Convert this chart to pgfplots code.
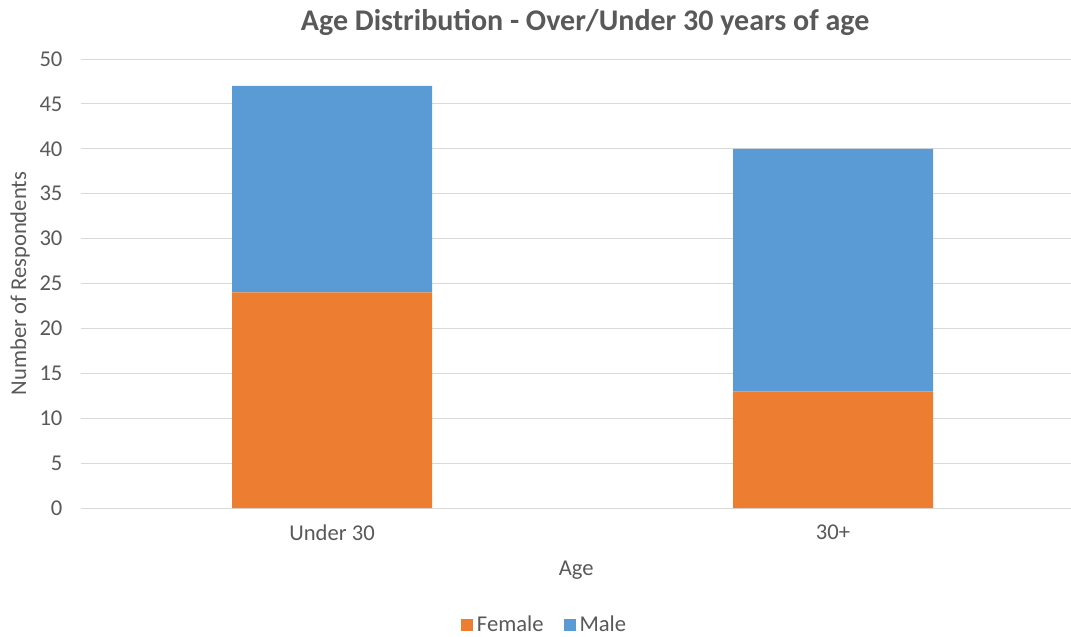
\documentclass[border=0pt]{standalone}
\usepackage{pgfplots}
\pgfplotsset{compat=1.18}
\usepackage{fontspec}
\setmainfont{Carlito}
\definecolor{cOrange}{HTML}{ED7D31}
\definecolor{cBlue}{HTML}{5B9BD5}
\definecolor{cText}{HTML}{595959}
\definecolor{cGrid}{HTML}{D9D9D9}
\begin{document}
\begin{tikzpicture}
\useasboundingbox (-40.75pt,-64.5pt) rectangle (494.75pt,254pt);
\begin{axis}[
  at={(0pt,0pt)}, anchor=south west,
  scale only axis,
  width=494.75pt, height=224.5pt,
  ybar stacked, bar width=100pt,
  xmin=-0.5, xmax=1.475,
  ymin=0, ymax=50, ytick={0,5,...,50},
  xtick=data, xticklabels={Under 30, 30+},
  axis line style={draw=none},
  major tick length=0pt,
  ymajorgrids, grid style={cGrid, line width=0.5pt},
  axis x line*=bottom,
  x axis line style={draw=cGrid, line width=0.5pt},
  ticklabel style={font=\fontsize{11.3}{13}\selectfont, text=cText},
  /pgf/number format/assume math mode=true,
  yticklabel style={xshift=-6pt},
  xticklabel style={yshift=-5pt},
  xlabel={Age}, ylabel={Number of Respondents},
  label style={font=\fontsize{11.3}{13}\selectfont, text=cText},
  xlabel style={yshift=-3pt},
  ylabel style={yshift=-2pt},
  title={\textbf{Age Distribution - Over/Under 30 years of age}},
  title style={font=\fontsize{15}{17}\selectfont, text=cText, at={(0.509,1)}, yshift=2pt},
  legend style={draw=none, font=\fontsize{11.3}{13}\selectfont, text=cText,
    at={(0.469,-0.261)}, anchor=center, legend columns=-1,
    /tikz/every even column/.append style={column sep=8pt}},
  legend image code/.code={\fill[#1] (0pt,-3pt) rectangle (6pt,3pt);},
  enlarge y limits=false,
  clip=false,
]
\addplot[fill=cOrange, draw=none] coordinates {(0,24) (1,13)};
\addplot[fill=cBlue, draw=none] coordinates {(0,23) (1,27)};
\legend{Female, Male}
\end{axis}
\end{tikzpicture}
\end{document}
